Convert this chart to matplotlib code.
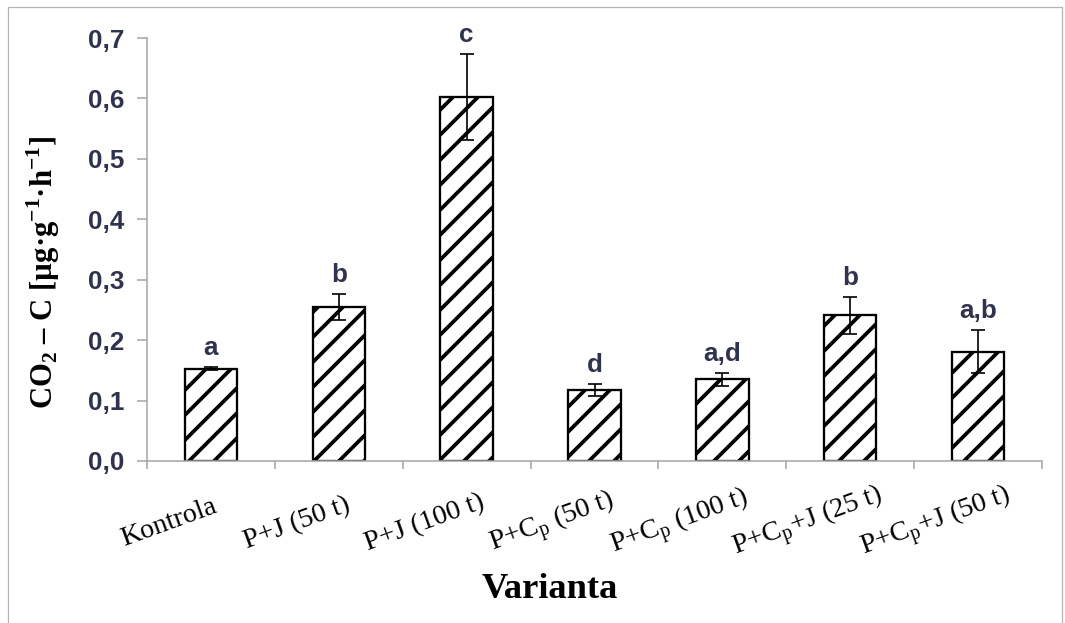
import matplotlib
matplotlib.use("Agg")
import matplotlib.pyplot as plt
from matplotlib.patches import Rectangle
from matplotlib.transforms import ScaledTranslation

# ------------------------------
# Données
# ------------------------------
variants = [
    "Kontrola",
    "P+J (50 t)",
    "P+J (100 t)",
    r"P+C$_\mathregular{p}$ (50 t)",
    r"P+C$_\mathregular{p}$ (100 t)",
    r"P+C$_\mathregular{p}$+J (25 t)",
    r"P+C$_\mathregular{p}$+J (50 t)",
]
values = [0.153, 0.255, 0.602, 0.117, 0.135, 0.241, 0.181]
errors = [0.002, 0.021, 0.071, 0.010, 0.011, 0.031, 0.035]
letters = ["a", "b", "c", "d", "a,d", "b", "a,b"]
y_ticks = [0.0, 0.1, 0.2, 0.3, 0.4, 0.5, 0.6, 0.7]

# ------------------------------
# Style
# ------------------------------
DPI = 75
W, H = 1065, 623
TXT = "#30334f"
AXC = "#a6a6a6"
plt.rcParams["hatch.linewidth"] = 3.6
plt.rcParams["hatch.color"] = "black"
plt.rcParams["mathtext.fontset"] = "custom"
plt.rcParams["mathtext.rm"] = "Liberation Serif"
plt.rcParams["mathtext.bf"] = "Liberation Serif:bold"

fig = plt.figure(figsize=(W / DPI, H / DPI), dpi=DPI)
ax = fig.add_axes([147 / W, 1 - 461 / H, (1042 - 147) / W, (461 - 38) / H])

x = list(range(len(values)))
ax.bar(x, values, width=0.41, color="white", edgecolor="black",
       linewidth=2.2, hatch="/", zorder=2)
ax.errorbar(x, values, yerr=errors, fmt="none", ecolor="black",
            elinewidth=1.6, capsize=7, capthick=1.6, zorder=3)

for xi, v, e, lab in zip(x, values, errors, letters):
    ax.annotate(lab, (xi, v + e), xytext=(0, 12), textcoords="offset pixels",
                ha="center", va="baseline", fontsize=25, fontweight="bold",
                family="Liberation Sans", color=TXT)

# Axes
ax.set_xlim(-0.5, len(values) - 0.5)
ax.set_ylim(0, 0.7)
ax.set_yticks(y_ticks)
ax.set_yticklabels([f"{t:.1f}".replace(".", ",") for t in y_ticks],
                   fontsize=25, fontweight="bold",
                   family="Liberation Sans", color=TXT)
ax.set_xticks([i - 0.5 for i in range(len(values) + 1)])
ax.set_xticklabels([])
ax.tick_params(axis="x", length=8, width=1.5, color=AXC, direction="out")
ax.tick_params(axis="y", length=9.5, width=1.5, color=AXC, pad=12.5)

# étiquettes des variantes, décalées vers la gauche (style Excel)
lbl_tr = ax.get_xaxis_transform() + ScaledTranslation(-42 / DPI, -62 / DPI,
                                                      fig.dpi_scale_trans)
for xi, name in zip(x, variants):
    ax.text(xi, 0, name, transform=lbl_tr, rotation=20, ha="center",
            va="center", rotation_mode="anchor", fontsize=27,
            family="Liberation Serif", color="black")

for s in ["top", "right"]:
    ax.spines[s].set_visible(False)
for s in ["left", "bottom"]:
    ax.spines[s].set_color(AXC)
    ax.spines[s].set_linewidth(1.5)

# Titres des axes
fig.text(550 / W, 1 - 590 / H, "Varianta", ha="center", va="center",
         fontsize=35, fontweight="bold", family="Liberation Serif")
fig.text(43 / W, 1 - 272 / H,
         r"CO$_\mathbf{2}$ – C [µg·g$^\mathbf{-1}$·h$^\mathbf{-1}$]",
         ha="center", va="center", rotation=90, fontsize=29.5,
         fontweight="bold", family="Liberation Serif")

# Cadre
fig.patches.append(Rectangle((8 / W, -0.05), (1062 - 8) / W, 1.05 - 7 / H,
                             transform=fig.transFigure, fill=False,
                             edgecolor="#b4b4b4", linewidth=1.2))

fig.savefig("out.png", dpi=DPI)
